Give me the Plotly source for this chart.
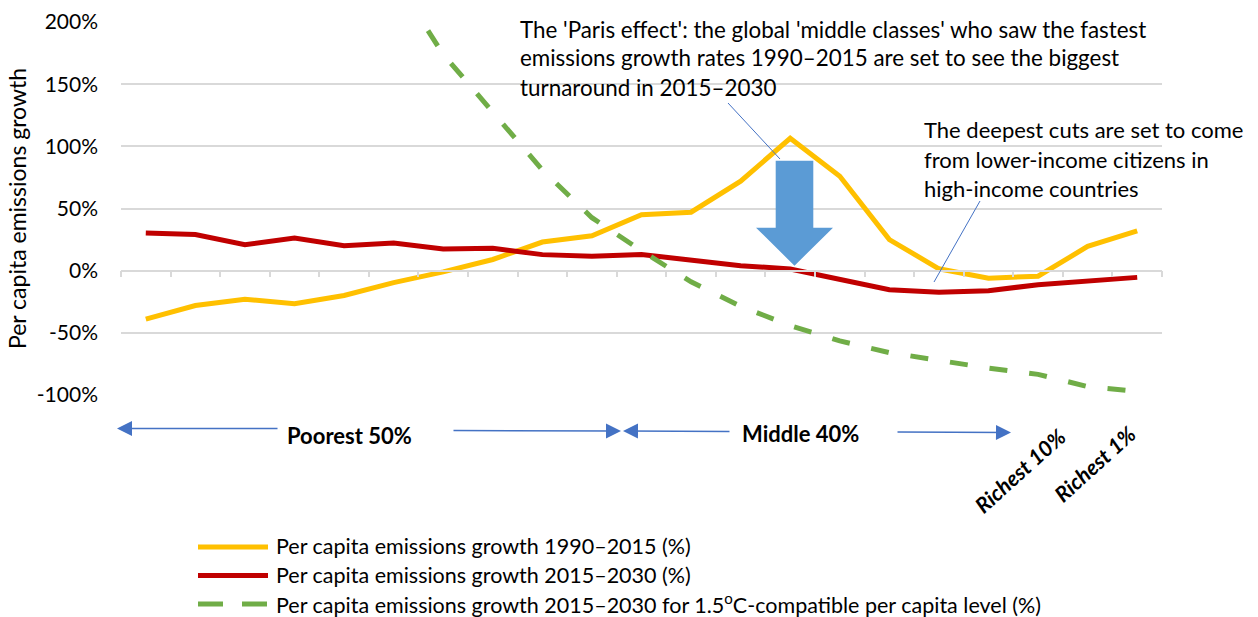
import plotly.graph_objects as go

# ---------------- data ----------------
group_index = list(range(21))  # global income groups, poorest -> richest
growth_1990_2015 = [-39, -28, -23, -26.5, -20, -9.6, -1, 9, 23, 28, 45, 47, 72, 106.5, 76, 25, 1.5, -6, -4.5, 19.5, 32]
growth_2015_2030 = [30.3, 29, 20.9, 26.3, 20.1, 22.3, 17.4, 18, 12.9, 11.6, 13, 8.8, 4, 1.4, -7.2, -15.3, -17.4, -16.1, -11.3, -8.6, -5.4]
growth_15c = [720, 560, 450, 360, 290, 236, 174, 128, 81, 42.6, 16, -9, -28.7, -44.2, -56.5, -65.9, -72.6, -78.4, -83.4, -93.2, -97]

series_names = [
    "Per capita emissions growth 1990–2015 (%)",
    "Per capita emissions growth 2015–2030 (%)",
    "Per capita emissions growth 2015–2030 for 1.5<sup>o</sup>C-compatible per capita level (%)",
]
series_colors = ["#FFC000", "#C00000", "#70AD47"]
series_dash = ["solid", "solid", "18px,22px"]

y_ticks = [-100, -50, 0, 50, 100, 150, 200]
y_tick_labels = ["-100%", "-50%", "0%", "50%", "100%", "150%", "200%"]
y_title = "Per capita emissions growth"

paris_text = ["The 'Paris effect': the global 'middle classes' who saw the fastest",
              "emissions growth rates 1990–2015 are set to see the biggest",
              "turnaround in 2015–2030"]
cuts_text = ["The deepest cuts are set to come",
             "from lower-income citizens in",
             "high-income countries"]

# ---------------- layout helpers (page pixel coordinates) ----------------
PAGE_W, PAGE_H = 1258, 617
OFF = 8  # default body margin of the html page
W, H = PAGE_W - OFF, PAGE_H - OFF
PL, PR, PT, PB = 121, 1162, 22, 395


def px(x):
    return (x - PL) / (PR - PL)


def py(y):
    return (PB - y) / (PB - PT)


FONT = "Lato"

fig = go.Figure()
for vals, name, col, dash in zip([growth_1990_2015, growth_2015_2030, growth_15c],
                                 series_names, series_colors, series_dash):
    fig.add_trace(go.Scatter(x=group_index, y=vals, mode="lines", name=name,
                             line=dict(color=col, width=5, dash=dash),
                             showlegend=False, hoverinfo="skip"))

shapes = []
annotations = []

# y-axis title
annotations.append(dict(xref="paper", yref="paper", x=px(17), y=py(209), text=y_title,
                        textangle=-90, showarrow=False, xanchor="center", yanchor="middle",
                        font=dict(family=FONT, size=23, color="#000000")))

# blue block arrow (Paris effect)
cx, shaft, head = 794.5, 18.8, 38.5
top, neck, tip = 160.7, 227.7, 265.7
path = (f"M{px(cx-shaft)},{py(top)} L{px(cx+shaft)},{py(top)} L{px(cx+shaft)},{py(neck)} "
        f"L{px(cx+head)},{py(neck)} L{px(cx)},{py(tip)} L{px(cx-head)},{py(neck)} "
        f"L{px(cx-shaft)},{py(neck)} Z")
shapes.append(dict(type="path", xref="paper", yref="paper", path=path,
                   fillcolor="#5B9BD5", line=dict(width=0), layer="above"))

# callout lines
for (x0, y0, x1, y1) in [(728, 103, 780, 159), (980, 201, 934, 282)]:
    shapes.append(dict(type="line", xref="paper", yref="paper",
                       x0=px(x0), y0=py(y0), x1=px(x1), y1=py(y1),
                       line=dict(color="#4472C4", width=1)))

# annotation texts
for i, t in enumerate(paris_text):
    annotations.append(dict(xref="paper", yref="paper", x=px(518), y=py(29 + 29 * i),
                            xanchor="left", yanchor="middle", text=t, showarrow=False,
                            font=dict(family=FONT, size=22.4, color="#000000")))
for i, t in enumerate(cuts_text):
    annotations.append(dict(xref="paper", yref="paper", x=px(922), y=py(130 + 29 * i),
                            xanchor="left", yanchor="middle", text=t, showarrow=False,
                            font=dict(family=FONT, size=22, color="#000000")))

# group arrows below the axis
for (tipx, tipy, tailx, taily) in [(117, 428.5, 279, 428.5), (621, 431, 452, 430.5),
                                   (623, 431, 731, 431.5), (1011, 432.5, 896, 432)]:
    annotations.append(dict(xref="paper", yref="paper", x=px(tipx), y=py(tipy),
                            ax=tailx - tipx, ay=taily - tipy, axref="pixel", ayref="pixel",
                            text="", showarrow=True, arrowhead=2, arrowsize=2,
                            arrowwidth=1.5, arrowcolor="#4472C4", standoff=0))
for (t, x, y) in [("Poorest 50%", 349, 435), ("Middle 40%", 800, 433)]:
    annotations.append(dict(xref="paper", yref="paper", x=px(x), y=py(y), text=f"<b>{t}</b>",
                            showarrow=False, xanchor="center", yanchor="middle",
                            font=dict(family=FONT, size=22, color="#000000")))
for (t, x, y) in [("Richest 10%", 1020, 471), ("Richest 1%", 1095, 464)]:
    annotations.append(dict(xref="paper", yref="paper", x=px(x), y=py(y), text=f"<b><i>{t}</i></b>",
                            showarrow=False, xanchor="center", yanchor="middle", textangle=-42,
                            font=dict(family=FONT, size=21.5, color="#000000")))

# custom legend
for i, (name, col, dash) in enumerate(zip(series_names, series_colors, series_dash)):
    yy = 547 + 28.5 * i
    shapes.append(dict(type="line", xref="paper", yref="paper",
                       x0=px(198), x1=px(268), y0=py(yy), y1=py(yy),
                       line=dict(color=col, width=5, dash=("25px,19px" if dash != "solid" else "solid"))))
    annotations.append(dict(xref="paper", yref="paper", x=px(274), y=py(yy - 1), text=name,
                            showarrow=False, xanchor="left", yanchor="middle",
                            font=dict(family=FONT, size=21.5, color="#000000")))

fig.update_layout(
    width=W, height=H,
    margin=dict(l=PL - OFF, r=PAGE_W - PR, t=PT - OFF, b=PAGE_H - PB, pad=0, autoexpand=False),
    paper_bgcolor="white", plot_bgcolor="white",
    showlegend=False,
    shapes=shapes, annotations=annotations,
    font=dict(family=FONT, color="#000000"),
    xaxis=dict(range=[-0.5, 20.5], anchor="free", position=1 / 3, automargin=False,
               showgrid=False, zeroline=False, showline=True, linecolor="#D9D9D9", linewidth=1.5,
               tickmode="array", tickvals=[i - 0.5 for i in range(22)], ticks="outside",
               ticklen=6, tickcolor="#D9D9D9", tickwidth=1.5, showticklabels=False),
    yaxis=dict(range=[-100, 200], tickmode="array", tickvals=y_ticks, ticktext=y_tick_labels,
               automargin=False,
               showgrid=True, gridcolor="#D9D9D9", gridwidth=1.5, zeroline=False, showline=False,
               ticks="", ticklabelstandoff=22,
               tickfont=dict(family=FONT, size=21, color="#000000")),
)

fig.write_html("out.html")
